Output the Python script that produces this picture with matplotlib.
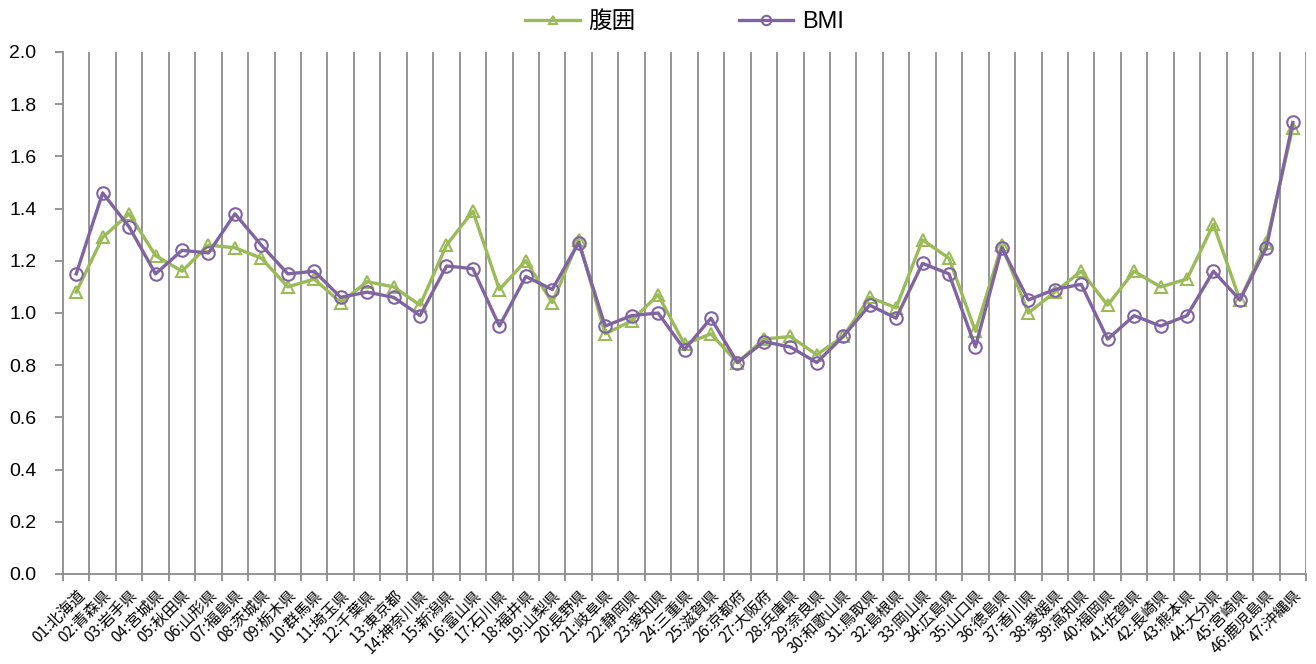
import matplotlib
matplotlib.use("Agg")
import matplotlib.pyplot as plt
import matplotlib.transforms as mtransforms
import numpy as np
from matplotlib.ticker import FixedLocator, MultipleLocator

plt.rcParams['font.family'] = ['Noto Sans CJK JP', 'DejaVu Sans']

prefectures = [
    "01:北海道", "02:青森県", "03:岩手県", "04:宮城県", "05:秋田県", "06:山形県",
    "07:福島県", "08:茨城県", "09:栃木県", "10:群馬県", "11:埼玉県", "12:千葉県",
    "13:東京都", "14:神奈川県", "15:新潟県", "16:富山県", "17:石川県", "18:福井県",
    "19:山梨県", "20:長野県", "21:岐阜県", "22:静岡県", "23:愛知県", "24:三重県",
    "25:滋賀県", "26:京都府", "27:大阪府", "28:兵庫県", "29:奈良県", "30:和歌山県",
    "31:鳥取県", "32:島根県", "33:岡山県", "34:広島県", "35:山口県", "36:徳島県",
    "37:香川県", "38:愛媛県", "39:高知県", "40:福岡県", "41:佐賀県", "42:長崎県",
    "43:熊本県", "44:大分県", "45:宮崎県", "46:鹿児島県", "47:沖縄県",
]
waist = [
    1.08, 1.29, 1.38, 1.22, 1.16, 1.26, 1.25, 1.21, 1.10, 1.13, 1.04, 1.12,
    1.10, 1.03, 1.26, 1.39, 1.09, 1.20, 1.04, 1.28, 0.92, 0.97, 1.07, 0.88,
    0.92, 0.81, 0.90, 0.91, 0.84, 0.91, 1.06, 1.02, 1.28, 1.21, 0.93, 1.26,
    1.00, 1.08, 1.16, 1.03, 1.16, 1.10, 1.13, 1.34, 1.05, 1.27, 1.71,
]
bmi = [
    1.15, 1.46, 1.33, 1.15, 1.24, 1.23, 1.38, 1.26, 1.15, 1.16, 1.06, 1.08,
    1.06, 0.99, 1.18, 1.17, 0.95, 1.14, 1.09, 1.27, 0.95, 0.99, 1.00, 0.86,
    0.98, 0.81, 0.89, 0.87, 0.81, 0.91, 1.03, 0.98, 1.19, 1.15, 0.87, 1.25,
    1.05, 1.09, 1.11, 0.90, 0.99, 0.95, 0.99, 1.16, 1.05, 1.25, 1.73,
]

GREEN = "#9BBB59"
PURPLE = "#8064A2"
GRID = "#8c8c8c"
LATIN = ['Liberation Sans', 'Noto Sans CJK JP']

fig = plt.figure(figsize=(13.16, 6.64), dpi=100)
ax = fig.add_axes([63 / 1316, 90 / 664, 1243 / 1316, 522 / 664])

x = np.arange(len(prefectures))
ax.plot(x, waist, color=GREEN, lw=2.4, marker="^", ms=8, mfc="none",
        mec=GREEN, mew=1.5, label="腹囲", zorder=3)
ax.plot(x, bmi, color=PURPLE, lw=2.4, marker="o", ms=9, mfc="none",
        mec=PURPLE, mew=1.5, label="BMI", zorder=4)

ax.set_xlim(-0.5, len(prefectures) - 0.5)
ax.set_ylim(0, 2.0)
ax.yaxis.set_major_locator(MultipleLocator(0.2))
ax.set_yticklabels([f"{v:.1f}" for v in ax.get_yticks()], family=LATIN, fontsize=14)

# category boundaries: vertical grid + ticks
bounds = np.arange(-0.5, len(prefectures), 1.0)
ax.xaxis.set_minor_locator(FixedLocator(bounds))
for b in bounds[1:]:
    ax.axvline(b, color=GRID, lw=1.3, zorder=1)
ax.set_xticks(x)
ax.set_xticklabels(prefectures, rotation=45, ha="right", rotation_mode="anchor",
                   fontsize=11)
shift = mtransforms.ScaledTranslation(4 / 100, -4 / 100, fig.dpi_scale_trans)
for lbl in ax.get_xticklabels():
    lbl.set_transform(lbl.get_transform() + shift)
ax.tick_params(axis="x", which="major", length=0, pad=9)
ax.tick_params(axis="x", which="minor", length=5, width=1.3, color=GRID)
ax.tick_params(axis="y", length=6, width=1.3, color=GRID, pad=13)

for side in ("top", "right"):
    ax.spines[side].set_visible(False)
for side in ("left", "bottom"):
    ax.spines[side].set_color(GRID)
    ax.spines[side].set_linewidth(1.3)

ax.legend(loc="lower center", bbox_to_anchor=(0.5, 1.0), ncol=2, frameon=False,
          prop={'family': LATIN, 'size': 17}, handlelength=2.3, columnspacing=4.4,
          borderaxespad=0.4, markerscale=0.75, handletextpad=0.35)

fig.savefig("out.png", dpi=100)
